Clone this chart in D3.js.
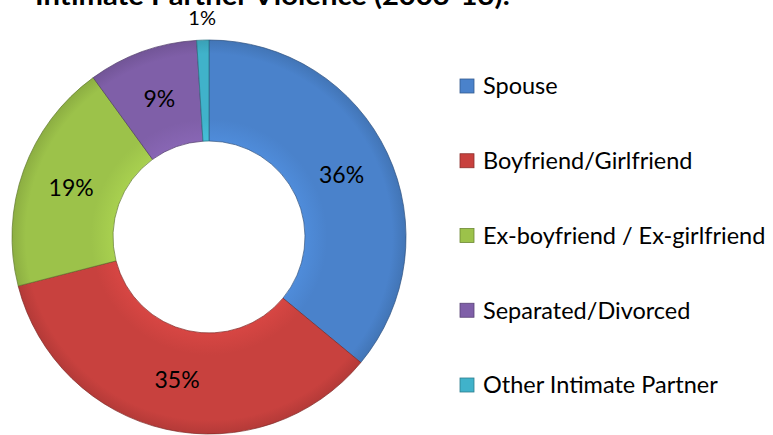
<!DOCTYPE html>
<html>
<head>
<meta charset="utf-8">
<script src="https://cdn.jsdelivr.net/npm/d3@7"></script>
<style>
  body { margin: 0; background: #fff; }
  svg { display: block; }
  text { font-family: Lato, "Open Sans", sans-serif; fill: #000; }
</style>
</head>
<body>
<svg id="chart" width="773" height="435"></svg>
<script>
const titleText = "Intimate Partner Violence (2003-13):";
const categories = ["Spouse", "Boyfriend/Girlfriend", "Ex-boyfriend / Ex-girlfriend", "Separated/Divorced", "Other Intimate Partner"];
const values = [36, 35, 19, 9, 1];
const labels = ["36%", "35%", "19%", "9%", "1%"];
const colors = ["#4a82cb", "#c8413e", "#9cc24a", "#7f5fa8", "#40b2ca"];

const svg = d3.select("#chart");
const cx = 209, cy = 237, outerR = 197, innerR = 96;

// title (cut off at top, as in reference)
svg.append("text")
  .attr("x", 35).attr("y", 5)
  .attr("textLength", 475).attr("lengthAdjust", "spacingAndGlyphs")
  .style("font-weight", "bold").style("font-size", "26px")
  .text(titleText);

const defs = svg.append("defs");
colors.forEach((c, i) => {
  const gr = defs.append("radialGradient")
    .attr("id", "grad" + i)
    .attr("gradientUnits", "userSpaceOnUse")
    .attr("cx", 0).attr("cy", 0).attr("r", outerR);
  gr.append("stop").attr("offset", innerR / outerR).attr("stop-color", d3.color(c).brighter(0.2));
  gr.append("stop").attr("offset", 0.6).attr("stop-color", c);
  gr.append("stop").attr("offset", 0.93).attr("stop-color", c);
  gr.append("stop").attr("offset", 1).attr("stop-color", d3.color(c).darker(0.3));
});

const pie = d3.pie().sort(null).value(d => d)(values);
const arc = d3.arc().innerRadius(innerR).outerRadius(outerR);
const g = svg.append("g").attr("transform", `translate(${cx},${cy})`);

g.selectAll("path.slice").data(pie).join("path")
  .attr("class", "slice")
  .attr("d", arc)
  .attr("fill", (d, i) => `url(#grad${i})`)
  .attr("stroke", (d, i) => d3.color(colors[i]).darker(1.3))
  .attr("stroke-width", 0.7);

const outsideArc = d3.arc().innerRadius(219).outerRadius(219);
g.selectAll("text.lbl").data(pie).join("text")
  .attr("class", "lbl")
  .attr("transform", (d, i) => {
    const p = (values[i] < 3 ? outsideArc : arc).centroid(d);
    return `translate(${p[0]},${p[1]})`;
  })
  .attr("text-anchor", "middle")
  .attr("dy", "0.36em")
  .style("font-size", (d, i) => values[i] < 3 ? "20px" : "23px")
  .text((d, i) => labels[i]);

// legend
const legendY = d3.scalePoint().domain(categories).range([86, 385]);
const lg = svg.append("g");
const items = lg.selectAll("g").data(categories).join("g")
  .attr("transform", d => `translate(460,${legendY(d)})`);
items.append("rect")
  .attr("x", 0).attr("y", -7).attr("width", 14).attr("height", 14)
  .attr("fill", (d, i) => colors[i])
  .attr("stroke", (d, i) => d3.color(colors[i]).darker(1))
  .attr("stroke-width", 0.8);
items.append("text")
  .attr("x", 23).attr("y", 0).attr("dy", "0.36em")
  .style("font-size", "23.5px")
  .text(d => d);
</script>
</body>
</html>
